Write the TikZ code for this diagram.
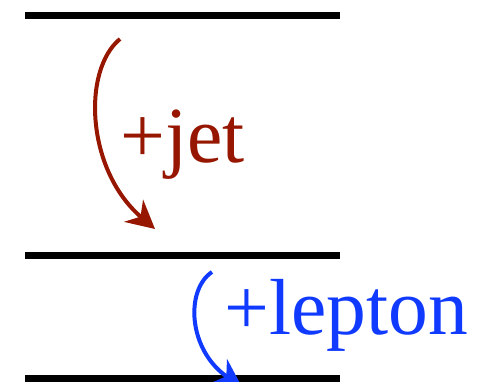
\documentclass[tikz,border=0pt]{standalone}
\usepackage{fontspec}
\setmainfont{Liberation Serif}
\usetikzlibrary{arrows.meta}
\definecolor{jetred}{RGB}{150,22,0}
\definecolor{lepblue}{RGB}{16,58,255}
\tikzset{
  level/.style={line width=7pt, black},
  trans/.style={line width=4pt, -{Stealth[length=28pt,width=29pt,inset=9pt]}},
  lab/.style={anchor=base west, inner sep=0pt, font=\fontsize{79.5}{82}\selectfont}
}
\begin{document}
\begin{tikzpicture}[x=1pt,y=-1pt]
\useasboundingbox (0,0) rectangle (485,381);
\coordinate (t1) at (25,15.5);  \coordinate (t2) at (340,15.5);
\coordinate (m1) at (25,255.5); \coordinate (m2) at (340,255.5);
\coordinate (b1) at (25,378.5); \coordinate (b2) at (340,378.5);
\draw[level] (t1) -- (t2);
\draw[level] (m1) -- (m2);
\draw[level] (b1) -- (b2);
\coordinate (rs) at (120,39);  \coordinate (re) at (155,229);
\coordinate (bs) at (212,272); \coordinate (be) at (242,387);
\draw[trans, jetred] (rs) .. controls (82,70) and (86,170) .. (re);
\draw[trans, lepblue] (bs) .. controls (185,290) and (188,350) .. (be);
\node[lab, text=jetred] (jet) at (120,162) {+jet};
\node[lab, text=lepblue] (lep) at (224,334) {+lepton};
\end{tikzpicture}
\end{document}
